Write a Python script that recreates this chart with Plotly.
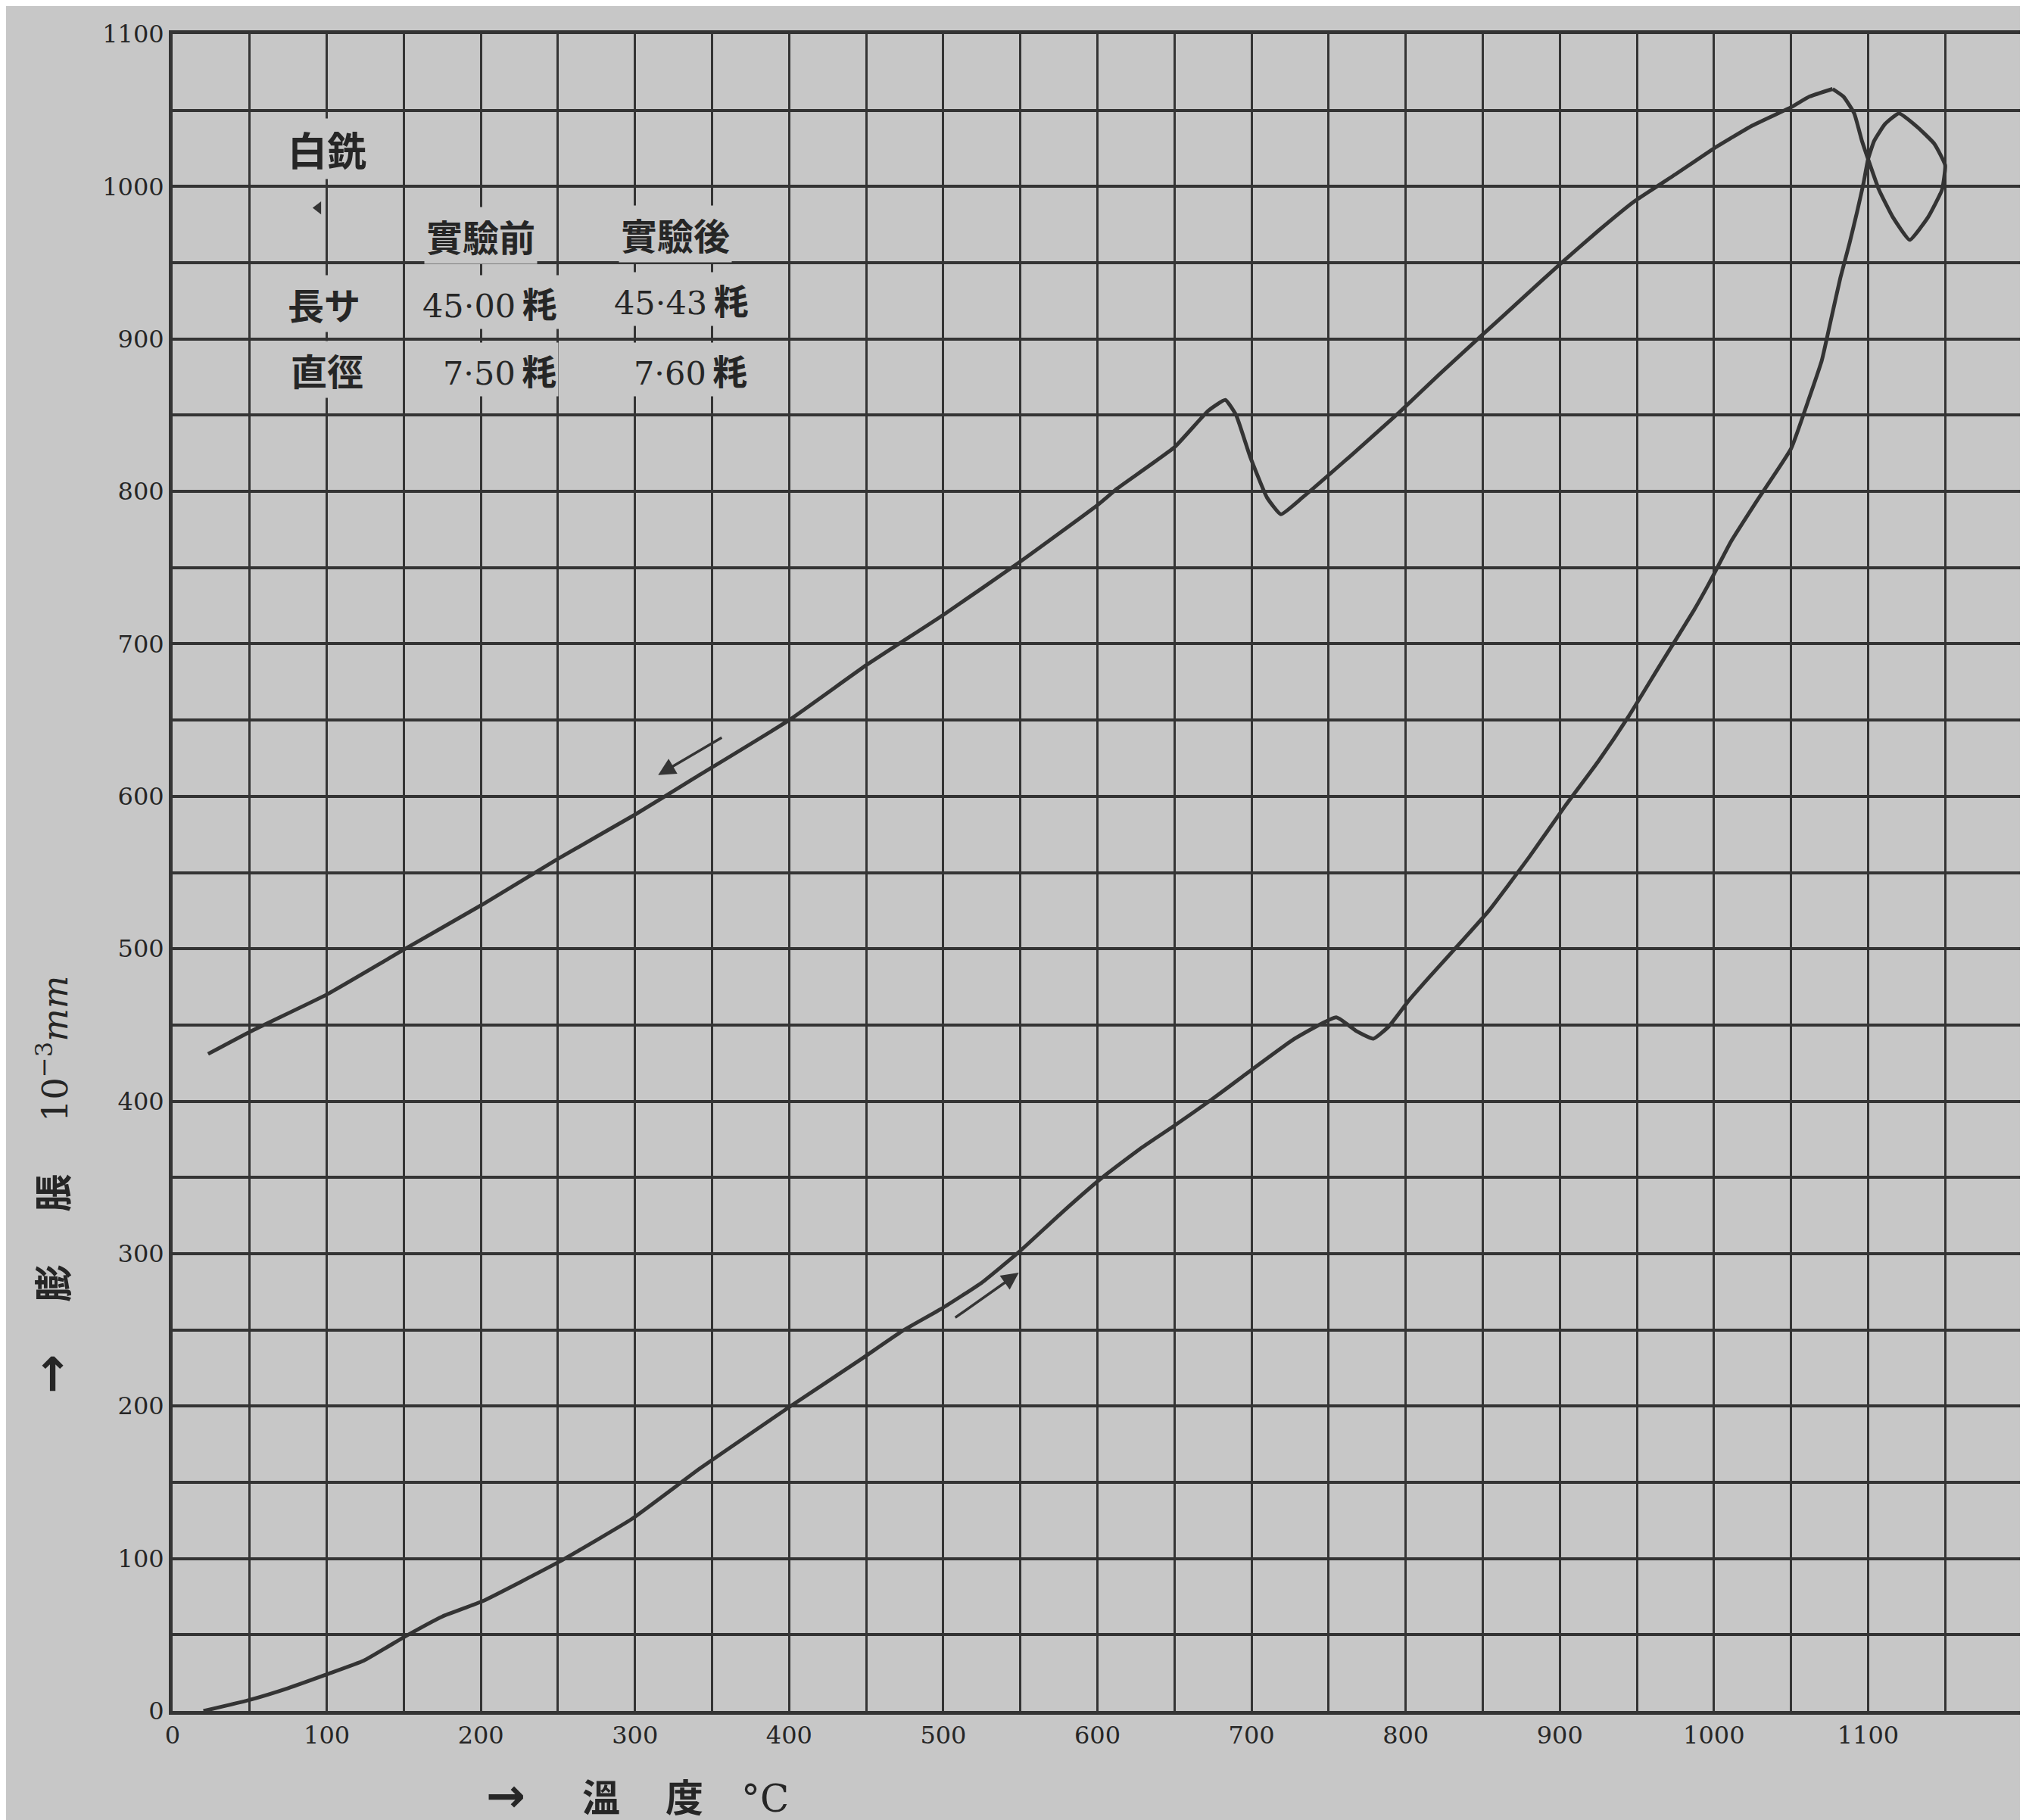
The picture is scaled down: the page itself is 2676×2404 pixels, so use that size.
import plotly.graph_objects as go

# ---------------- data ----------------
# heating curve: temperature (°C) and expansion (10^-3 mm), incl. the loop at the top
heat_temp = [20, 49, 75, 100, 124, 151, 175, 201, 251, 298, 342, 375, 401, 447, 473, 499,
             525, 549, 577, 602, 628, 650, 674, 694, 728, 755, 768, 779, 789, 802, 815, 832,
             854, 880, 903, 925, 945, 965, 987, 997, 1011, 1028, 1050, 1061, 1070, 1076,
             1082, 1088, 1093, 1097, 1100, 1104, 1111, 1120, 1132, 1143, 1150, 1148, 1139,
             1127, 1116, 1107, 1100, 1096, 1091, 1084, 1077]
heat_exp = [0, 7, 15, 24, 33, 49, 62, 72, 98, 126, 159, 182, 200, 231, 249, 264,
            281, 301, 327, 349, 369, 384, 401, 416, 441, 455, 446, 441, 449, 466, 481, 500,
            525, 560, 593, 623, 653, 686, 722, 740, 767, 794, 828, 859, 886, 913,
            940, 963, 984, 1002, 1018, 1030, 1041, 1048, 1039, 1028, 1014, 998, 980,
            965, 980, 998, 1018, 1030, 1048, 1059, 1064]

# cooling curve: from the top peak back down to room temperature
cool_temp = [1077, 1062, 1050, 1025, 1000, 975, 948, 925, 900, 875, 849, 822, 796, 765,
             733, 719, 710, 699, 690, 683, 672, 650, 613, 600, 550, 500, 450, 400, 337,
             300, 250, 201, 151, 100, 51, 23]
cool_exp = [1064, 1059, 1052, 1040, 1025, 1008, 990, 971, 949, 926, 902, 877, 852, 824,
            796, 785, 796, 823, 850, 860, 853, 829, 802, 791, 754, 719, 686, 650, 611,
            588, 559, 529, 500, 470, 446, 431]

# direction arrows (tail -> head)
cool_arrow = {"tail": (357, 639), "head": (315, 614)}
heat_arrow = {"tail": (507, 257.5), "head": (549, 287.5)}

# small mark in the table area
mark_temp = [94.5]
mark_exp = [986]

# tick labels
x_tick_vals = [0, 100, 200, 300, 400, 500, 600, 700, 800, 900, 1000, 1100]
x_tick_text = [str(v) for v in x_tick_vals]
y_tick_vals = [0, 100, 200, 300, 400, 500, 600, 700, 800, 900, 1000, 1100]
y_tick_text = [str(v) for v in y_tick_vals]

# specimen table (label, x, y)
table_title = ("白銑", 100, 1025)
table_header = [("實驗前", 200, 968), ("實驗後", 326, 969)]
table_rows = [("長サ", 98, 923), ("直徑", 100, 880)]
table_values = [("45·00", 206, 924), ("45·43", 330, 926),
                ("7·50", 212, 880), ("7·60", 336, 880)]
unit = "粍"

# ---------------- style ----------------
BG = "#c7c7c7"
INK = "#343434"
TXT = "#262626"
SERIF = "DejaVu Serif, Liberation Serif, serif"
CJK = "Noto Sans CJK JP, Noto Sans CJK TC, sans-serif"

fig = go.Figure()
for tx, ey in ((heat_temp, heat_exp), (cool_temp, cool_exp)):
    fig.add_trace(go.Scatter(x=tx, y=ey, mode="lines",
                             line=dict(color=INK, width=5, shape="spline", smoothing=0.4),
                             hoverinfo="skip"))
fig.add_trace(go.Scatter(x=mark_temp, y=mark_exp, mode="markers",
                         marker=dict(symbol="triangle-left", size=15, color=INK),
                         hoverinfo="skip"))

for arr in (cool_arrow, heat_arrow):
    fig.add_annotation(x=arr["head"][0], y=arr["head"][1], ax=arr["tail"][0], ay=arr["tail"][1],
                       xref="x", yref="y", axref="x", ayref="y", text="", showarrow=True,
                       arrowhead=2, arrowsize=1.3, arrowwidth=3.5, arrowcolor=INK, standoff=0)


def cjk(s, size=50):
    return f'<span style="font-family:{CJK};font-size:{size}px;font-weight:bold">{s}</span>'


def arrow_glyph(size=62):
    return f'<span style="font-family:DejaVu Sans;font-size:{size}px;font-weight:bold">→</span>'


fig.add_annotation(x=table_title[1], y=table_title[2], xref="x", yref="y",
                   text=cjk(table_title[0], 52), showarrow=False, bgcolor=BG, borderpad=2,
                   font=dict(family=SERIF, size=50, color=TXT))
for lab, xx, yy in table_header + table_rows:
    fig.add_annotation(x=xx, y=yy, xref="x", yref="y", text=cjk(lab, 48), showarrow=False,
                       bgcolor=BG, borderpad=2, font=dict(family=SERIF, size=48, color=TXT))
for lab, xx, yy in table_values:
    fig.add_annotation(x=xx, y=yy, xref="x", yref="y",
                       text=lab + "\u2009" + cjk(unit, 46), showarrow=False,
                       bgcolor=BG, borderpad=2, font=dict(family=SERIF, size=43, color=TXT))

# axis titles
fig.add_annotation(xref="paper", yref="paper", x=0.2512, y=-0.0505, xanchor="center",
                   yanchor="middle", showarrow=False,
                   text=arrow_glyph() + "\u2003\u2002" + cjk("溫", 50) + "\u2003\u2009"
                        + cjk("度", 50) + "\u2003°C",
                   font=dict(family=SERIF, size=50, color=TXT))
fig.add_annotation(xref="paper", yref="paper", x=-0.0658, y=0.314, xanchor="center",
                   yanchor="middle", showarrow=False, textangle=-90,
                   text=arrow_glyph() + "\u2003\u2002" + cjk("膨", 50) + "\u2003\u2002"
                        + cjk("脹", 50) + "\u2003\u200210<sup>−3</sup><i>mm</i>",
                   font=dict(family=SERIF, size=46, color=TXT))

axis_common = dict(showline=True, linecolor=INK, linewidth=5, mirror=True, ticks="",
                   zeroline=False, showgrid=True, gridcolor=INK,
                   tickfont=dict(family=SERIF, size=32, color=TXT), tickmode="array")
fig.update_xaxes(range=[0, 1200], tickvals=x_tick_vals, ticktext=x_tick_text, gridwidth=3,
                 minor=dict(dtick=50, tick0=0, showgrid=True, gridcolor=INK, gridwidth=3),
                 **axis_common)
fig.update_yaxes(range=[0, 1100], tickvals=y_tick_vals, ticktext=y_tick_text, gridwidth=3.5,
                 minor=dict(dtick=50, tick0=0, showgrid=True, gridcolor=INK, gridwidth=3.5),
                 **axis_common)

fig.update_layout(width=2676, height=2404, margin=dict(l=220, r=8, t=37, b=152),
                  paper_bgcolor=BG, plot_bgcolor=BG, showlegend=False)

fig.write_html("out.html")
